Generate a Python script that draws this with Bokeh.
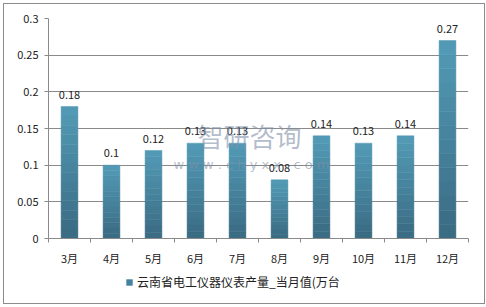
from bokeh.plotting import figure
from bokeh.layouts import column
from bokeh.models import (Range1d, LinearAxis, FixedTicker,
                          ColumnDataSource, Legend, LegendItem, Label)
from bokeh.embed import file_html
from bokeh.resources import INLINE

months = ["3月", "4月", "5月", "6月", "7月", "8月", "9月", "10月", "11月", "12月"]
values = [0.18, 0.10, 0.12, 0.13, 0.13, 0.08, 0.14, 0.13, 0.14, 0.27]
value_labels = ["0.18", "0.1", "0.12", "0.13", "0.13", "0.08", "0.14", "0.13", "0.14", "0.27"]
y_ticks = [0, 0.05, 0.1, 0.15, 0.2, 0.25, 0.3]
series_name = "云南省电工仪器仪表产量_当月值(万台"

FONT = "Noto Sans CJK SC"
BAR_TOP = (82, 153, 181)
BAR_BOTTOM = (58, 108, 131)
BAR_MID = "#4682a0"
GRID = "#8a8a8a"

n = len(months)
centers = [i + 0.5 for i in range(n)]
bounds = list(range(n + 1))
src = ColumnDataSource(dict(x=centers, v=values, lab=value_labels))

p = figure(width=480, height=264, x_range=Range1d(0, n),
           y_range=Range1d(0, 0.3), output_backend="svg", toolbar_location=None,
           x_axis_location=None, y_axis_location=None,
           min_border_left=44, min_border_right=16, min_border_top=14, min_border_bottom=30)
p.outline_line_color = None
p.background_fill_color = "white"

# y axis
ya = LinearAxis(ticker=FixedTicker(ticks=y_ticks))
ya.major_label_overrides = {0: "0", 0.05: "0.05", 0.1: "0.1", 0.15: "0.15", 0.2: "0.2", 0.25: "0.25", 0.3: "0.3"}
ya.axis_line_color = GRID
ya.major_tick_line_color = GRID
ya.major_tick_out = 4
ya.major_tick_in = 0
ya.minor_tick_line_color = None
ya.major_label_text_font = FONT
ya.major_label_text_font_size = "11px"
ya.major_label_text_color = "#222222"
ya.major_label_standoff = 6
p.add_layout(ya, "left")

# x axis: labels at centres, ticks at boundaries (minor ticks)
xa = LinearAxis(ticker=FixedTicker(ticks=centers, minor_ticks=bounds))
xa.major_label_overrides = {c: m for c, m in zip(centers, months)}
xa.axis_line_color = GRID
xa.major_tick_line_color = None
xa.major_tick_out = 0
xa.major_tick_in = 0
xa.minor_tick_line_color = GRID
xa.minor_tick_out = 4
xa.minor_tick_in = 0
xa.major_label_text_font = FONT
xa.major_label_text_font_size = "11px"
xa.major_label_text_color = "#222222"
xa.major_label_standoff = 7
p.add_layout(xa, "below")

p.xgrid.grid_line_color = None
p.ygrid.grid_line_color = GRID
p.ygrid.ticker = FixedTicker(ticks=y_ticks)

# bars with a vertical shading (layers derived from the values)
N = 14
for k in range(N):
    t = k / (N - 1)
    col = "#%02x%02x%02x" % tuple(int(round(b + (a - b) * t)) for a, b in zip(BAR_TOP, BAR_BOTTOM))
    p.vbar(x=centers, bottom=[v * k / N for v in values], top=[v * (k + 1) / N for v in values],
           width=0.4, fill_color=col, line_color=col, line_width=0.5)

p.text(x="x", y="v", text="lab", source=src, text_align="center", text_baseline="bottom",
       y_offset=-8, text_font_size="11px", text_color="#222222", text_font={"value": FONT})

# watermark
p.add_layout(Label(x=149, y=85, x_units="screen", y_units="screen", text="智研咨询",
                   text_font=FONT, text_font_size="26px", text_color="#8090a8", text_alpha=0.6))
p.add_layout(Label(x=125, y=67, x_units="screen", y_units="screen", text="w w w . c h y x x . c o m",
                   text_font="DejaVu Sans", text_font_size="13px", text_color="#8090a8", text_alpha=0.6))

# legend strip
q = figure(width=480, height=35, x_range=Range1d(0, 1), y_range=Range1d(0, 1),
           output_backend="svg", toolbar_location=None,
           x_axis_location=None, y_axis_location=None,
           min_border_left=0, min_border_right=0, min_border_top=0, min_border_bottom=0)
q.outline_line_color = None
q.xgrid.grid_line_color = None
q.ygrid.grid_line_color = None
lr = q.vbar(x=[-5], top=[-5], bottom=[-6], width=0.1, fill_color=BAR_MID, line_color=None)
legend = Legend(items=[LegendItem(label=series_name, renderers=[lr])],
                location=(77, 13), orientation="horizontal",
                label_text_font=FONT, label_text_font_size="12px", label_text_color="#222222",
                glyph_width=8, glyph_height=8, border_line_color=None, background_fill_alpha=0,
                padding=0, margin=0, label_standoff=4)
q.add_layout(legend, "center")

layout = column(p, q, spacing=0, margin=(3, 3, 3, 3),
                styles={"border": "1px solid #8c8c8c", "background": "white"})

open("out.html", "w").write(file_html(layout, INLINE))
